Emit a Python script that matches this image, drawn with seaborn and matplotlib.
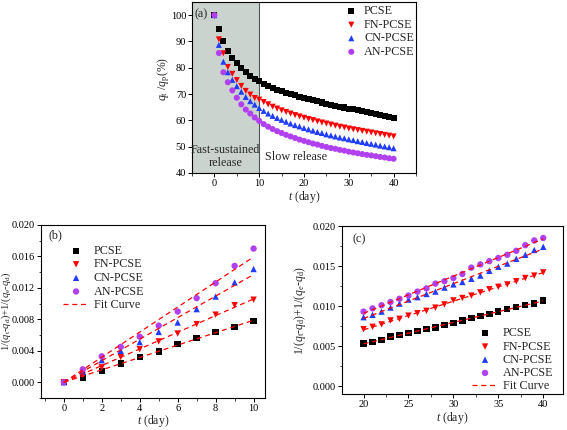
import numpy as np
import pandas as pd
import matplotlib
matplotlib.use("Agg")
import matplotlib.pyplot as plt
import seaborn as sns
from matplotlib.ticker import MultipleLocator, FormatStrFormatter

sns.set_theme(style="ticks")
plt.rcParams['font.family'] = ['Liberation Serif', 'DejaVu Serif']
plt.rcParams['mathtext.fontset'] = 'custom'
plt.rcParams['mathtext.rm'] = 'Liberation Serif'
plt.rcParams['mathtext.it'] = 'Liberation Serif:italic'

# ---------------- data ----------------
series = ["PCSE", "FN-PCSE", "CN-PCSE", "AN-PCSE"]
colors = ["#000000", "#ff0000", "#1f3cff", "#b040f0"]
markers = ["s", "v", "^", "o"]

days_a = list(range(0, 41))
pcse_a = [100, 94.7, 90.1, 86.3, 83.6, 81.7, 79.8, 78.3, 76.9, 75.8, 75.0,
          74.0, 73.1, 72.4, 71.7, 71.0, 70.5, 70.0, 69.5, 69.0, 68.5,
          68.0, 67.6, 67.2, 66.8, 66.4, 66.0, 65.6, 65.2, 64.9, 64.5,
          64.2, 63.8, 63.5, 63.1, 62.8, 62.4, 62.0, 61.6, 61.2, 60.8]
fn_a = [99.7, 90.8, 85.5, 80.3, 77.7, 75.3, 73.1, 71.2, 69.8, 68.5, 67.9,
        67.0, 66.1, 65.2, 64.5, 63.8, 63.2, 62.6, 62.0, 61.5, 61.0,
        60.5, 60.1, 59.6, 59.2, 58.8, 58.4, 58.0, 57.6, 57.3, 56.9,
        56.6, 56.3, 56.0, 55.7, 55.4, 55.1, 54.8, 54.5, 54.2, 53.9]
cn_a = [100, 88.7, 82.3, 78.3, 75.4, 73.0, 70.9, 68.9, 67.3, 66.0, 64.7,
        63.6, 62.6, 61.7, 60.9, 60.2, 59.5, 58.8, 58.2, 57.7, 57.1,
        56.6, 56.1, 55.6, 55.2, 54.7, 54.3, 53.9, 53.5, 53.2, 52.8,
        52.5, 52.1, 51.8, 51.4, 51.1, 50.8, 50.4, 50.1, 49.8, 49.4]
an_a = [100, 85.6, 78.3, 74.5, 71.4, 68.6, 66.1, 64.1, 62.6, 61.1, 59.8,
        58.6, 57.6, 56.7, 55.9, 55.2, 54.5, 53.9, 53.3, 52.7, 52.2,
        51.7, 51.2, 50.8, 50.3, 49.9, 49.5, 49.2, 48.8, 48.5, 48.1,
        47.8, 47.5, 47.2, 46.9, 46.7, 46.4, 46.1, 45.9, 45.6, 45.4]

days_b = list(range(0, 11))
pcse_b = [0, 0.00063, 0.00143, 0.0024, 0.00325, 0.0039, 0.00485, 0.0056, 0.0064, 0.0070, 0.0078]
fn_b = [0, 0.00093, 0.0019, 0.0032, 0.0042, 0.0052, 0.0062, 0.0074, 0.0086, 0.0098, 0.0105]
cn_b = [0, 0.00135, 0.0028, 0.0040, 0.0051, 0.0064, 0.0076, 0.0093, 0.0109, 0.0127, 0.0144]
an_b = [0, 0.00165, 0.0033, 0.0045, 0.0058, 0.0072, 0.0090, 0.0107, 0.0126, 0.0148, 0.0170]

days_c = list(range(20, 41))
pcse_c = [0.00533, 0.0055, 0.00575, 0.0062, 0.0064, 0.0066, 0.0069, 0.0071, 0.0073, 0.0076, 0.0079,
          0.0082, 0.0085, 0.00875, 0.0090, 0.0093, 0.0096, 0.0099, 0.0101, 0.0103, 0.0107]
fn_c = [0.0071, 0.0074, 0.0077, 0.0082, 0.0084, 0.0088, 0.0091, 0.0094, 0.0098, 0.0102, 0.0107,
        0.0110, 0.0113, 0.0117, 0.0121, 0.0124, 0.0127, 0.0131, 0.0135, 0.0138, 0.0142]
cn_c = [0.0086, 0.0089, 0.0093, 0.0098, 0.0103, 0.0108, 0.0111, 0.0115, 0.0118, 0.0123, 0.0127,
        0.0130, 0.0134, 0.0138, 0.0144, 0.0149, 0.0153, 0.0159, 0.0164, 0.0170, 0.0174]
an_c = [0.0093, 0.0097, 0.0101, 0.0105, 0.0109, 0.0113, 0.0118, 0.0122, 0.0128, 0.0131, 0.0135,
        0.0140, 0.0148, 0.0152, 0.0156, 0.0160, 0.0164, 0.0169, 0.0176, 0.0182, 0.0185]

data_a = [pcse_a, fn_a, cn_a, an_a]
data_b = [pcse_b, fn_b, cn_b, an_b]
data_c = [pcse_c, fn_c, cn_c, an_c]

FS_TICK = 7.5
FS_LAB = 8.5
FS_LEG = 8.7
ylab_bc = r"1/($\it{q}$$_{\rm t}$-$\it{q}$$_{\rm d}$)+1/($\it{q}$$_{\rm e}$-$\it{q}$$_{\rm d}$)"
xlab = r"$\it{t}$ (day)"

fig = plt.figure(figsize=(5.67, 4.30), dpi=100)
ax_a = fig.add_axes([192/567, 1-173/430, 224/567, 171/430])
ax_b = fig.add_axes([41/567, 1-398/430, 224/567, 173/430])
ax_c = fig.add_axes([342/567, 1-394/430, 221/567, 168/430])

def style_axis(ax):
    for s in ax.spines.values():
        s.set_linewidth(0.8)
        s.set_color("black")
    ax.tick_params(which="major", direction="out", length=3, width=0.7, labelsize=FS_TICK,
                   pad=1.2, colors="black")
    ax.tick_params(which="minor", direction="out", length=1.8, width=0.6)
    ax.set_facecolor("white")

# ---------- panel (a) ----------
ax = ax_a
ax.axvspan(-5, 10, color="#cbd3cf", zorder=0, lw=0)
ax.axvline(10, color="#555555", lw=0.8, zorder=1)
for name, col, mk, ys in zip(series, colors, markers, data_a):
    sns.scatterplot(x=days_a, y=ys, ax=ax, marker=mk, color=col, s=19,
                    edgecolor="none", linewidth=0, label=name, zorder=3)
ax.set_xlim(-5, 45)
ax.set_ylim(40, 105)
ax.xaxis.set_major_locator(MultipleLocator(10))
ax.xaxis.set_minor_locator(MultipleLocator(5))
ax.yaxis.set_major_locator(MultipleLocator(10))
style_axis(ax)
ax.set_xlabel(xlab, fontsize=FS_LAB, labelpad=1)
ax.set_ylabel(r"$\it{q}$$_{\rm t}$ /$\it{q}$$_{\rm p}$(%)", fontsize=FS_LAB)
ax.yaxis.set_label_coords(-20/224, 0.55)
ax.text(-4.4, 100.3, "(a)", fontsize=FS_LEG, ha="left", va="center")
ax.text(2.5, 46.2, "Fast-sustained\nrelease", fontsize=FS_LEG, ha="center", va="center", linespacing=1.05)
ax.text(11.3, 46.2, "Slow release", fontsize=FS_LEG, ha="left", va="center")
ax.legend(loc="upper left", bbox_to_anchor=(0.66, 0.995), frameon=False, fontsize=FS_LEG,
          handletextpad=0.3, borderaxespad=0.0, borderpad=0.2, labelspacing=0.13, handlelength=1.5)

# ---------- panel (b) ----------
ax = ax_b
xb = np.array(days_b, dtype=float)
for name, col, mk, ys in zip(series, colors, markers, data_b):
    sns.scatterplot(x=days_b, y=ys, ax=ax, marker=mk, color=col, s=21,
                    edgecolor="none", linewidth=0, label=name, zorder=3)
for i, ys in enumerate(data_b):
    yv = np.array(ys)
    k = np.sum(xb * yv) / np.sum(xb * xb)
    xf = np.array([xb.min(), xb.max()])
    sns.lineplot(x=xf, y=k * xf, ax=ax, color="red", lw=0.9, linestyle=(0, (4, 3)),
                 label="Fit Curve" if i == 0 else None, zorder=4)
ax.set_xlim(-1.2, 10.6)
ax.set_ylim(-0.002, 0.020)
ax.xaxis.set_major_locator(MultipleLocator(2))
ax.xaxis.set_minor_locator(MultipleLocator(1))
ax.yaxis.set_major_locator(MultipleLocator(0.004))
ax.yaxis.set_minor_locator(MultipleLocator(0.002))
ax.yaxis.set_major_formatter(FormatStrFormatter("%.3f"))
style_axis(ax)
ax.set_xlabel(xlab, fontsize=FS_LAB, labelpad=0)
ax.set_ylabel(ylab_bc, fontsize=7.6)
ax.yaxis.set_label_coords(-28/224, 0.5)
ax.text(-0.8, 0.0187, "(b)", fontsize=FS_LEG, ha="left", va="center")
h, l = ax.get_legend_handles_labels()
order = [l.index(n) for n in series + ["Fit Curve"]]
ax.legend([h[j] for j in order], [l[j] for j in order], loc="upper left",
          bbox_to_anchor=(0.1, 0.885), frameon=False, fontsize=FS_LEG, handletextpad=0.4,
          borderaxespad=0.0, borderpad=0.0, labelspacing=0.13, handlelength=2.1)

# ---------- panel (c) ----------
ax = ax_c
xc = np.array(days_c, dtype=float)
for name, col, mk, ys in zip(series, colors, markers, data_c):
    sns.scatterplot(x=days_c, y=ys, ax=ax, marker=mk, color=col, s=21,
                    edgecolor="none", linewidth=0, label=name, zorder=3)
for i, ys in enumerate(data_c):
    p = np.polyfit(xc, np.array(ys), 1)
    xf = np.array([xc.min(), xc.max()])
    sns.lineplot(x=xf, y=np.polyval(p, xf), ax=ax, color="red", lw=0.9, linestyle=(0, (4, 3)),
                 label="Fit Curve" if i == 0 else None, zorder=4)
ax.set_xlim(17.6, 42.2)
ax.set_ylim(-0.001, 0.020)
ax.xaxis.set_major_locator(MultipleLocator(5))
ax.xaxis.set_minor_locator(MultipleLocator(2.5))
ax.yaxis.set_major_locator(MultipleLocator(0.005))
ax.yaxis.set_minor_locator(MultipleLocator(0.0025))
ax.yaxis.set_major_formatter(FormatStrFormatter("%.3f"))
style_axis(ax)
ax.set_xlabel(xlab, fontsize=FS_LAB, labelpad=1)
ax.set_ylabel(ylab_bc, fontsize=FS_LAB)
ax.yaxis.set_label_coords(-34/221, 0.5)
ax.text(18.8, 0.0183, "(c)", fontsize=FS_LEG, ha="left", va="center")
h, l = ax.get_legend_handles_labels()
order = [l.index(n) for n in series + ["Fit Curve"]]
ax.legend([h[j] for j in order], [l[j] for j in order], loc="lower right",
          bbox_to_anchor=(0.955, 0.01), frameon=False, fontsize=FS_LEG, handletextpad=0.4,
          borderaxespad=0.0, borderpad=0.0, labelspacing=0.1, handlelength=2.1)

fig.savefig("out.png", dpi=100)
